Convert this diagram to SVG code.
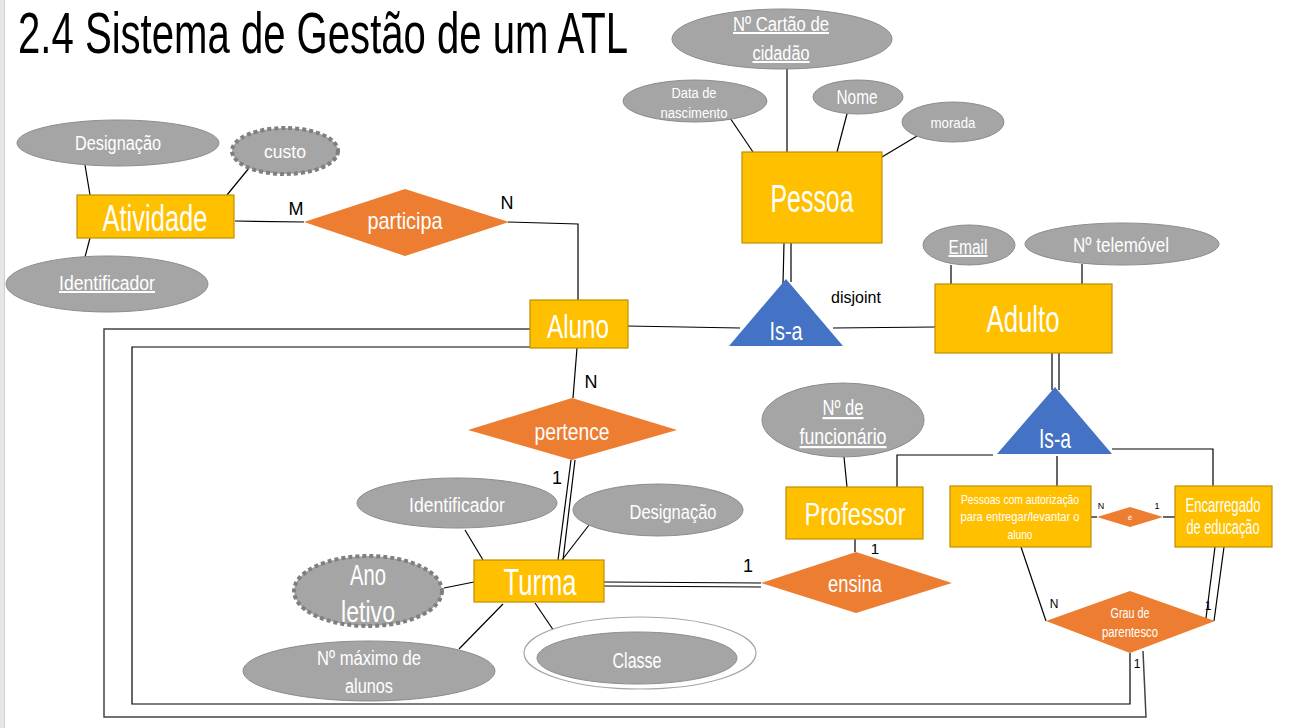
<svg xmlns="http://www.w3.org/2000/svg" width="1292" height="728" viewBox="0 0 1292 728">
<style>
.ent{fill:#FFC000;stroke:#BF9000;stroke-width:1.2}
.rel{fill:#ED7D31;stroke:none}
.att{fill:#A5A5A5;stroke:#8C8C8C;stroke-width:1}
.der{fill:#A5A5A5;stroke:#7F7F7F;stroke-width:4;stroke-dasharray:4 3}
.isa{fill:#4472C4;stroke:none}
.ln{fill:none;stroke:#000;stroke-width:1.2}
text{font-family:"Liberation Sans",Arial,sans-serif;text-anchor:middle;fill:#fff}
.lbl{fill:#000}
.u{text-decoration:underline}
</style>
<rect x="0" y="0" width="1292" height="728" fill="#fff"/>
<rect x="0" y="0" width="4" height="728" fill="#e6e6e6"/>
<line x1="4.5" y1="0" x2="4.5" y2="728" stroke="#cfcfcf" stroke-width="1"/>
<text x="323" y="53" font-size="58" style="fill:#000" textLength="610" lengthAdjust="spacingAndGlyphs">2.4 Sistema de Gestão de um ATL</text>

<g id="connectors">
<line class="ln" x1="728" y1="115" x2="753" y2="152"/>
<line class="ln" x1="787" y1="68" x2="787" y2="152"/>
<line class="ln" x1="848" y1="110" x2="837" y2="152"/>
<line class="ln" x1="917" y1="136" x2="882" y2="157"/>
<line class="ln" x1="85" y1="165" x2="90" y2="195"/>
<line class="ln" x1="249" y1="168" x2="227" y2="195"/>
<line class="ln" x1="90" y1="238" x2="85" y2="257"/>
<line class="ln" x1="235" y1="221" x2="304" y2="222"/>
<polyline class="ln" points="508,222 578,224 578,300"/>
<line class="ln" x1="627" y1="326" x2="740" y2="328"/>
<line class="ln" x1="784" y1="243" x2="783" y2="284"/>
<line class="ln" x1="791" y1="243" x2="791" y2="282"/>
<line class="ln" x1="833" y1="328" x2="935" y2="327"/>
<line class="ln" x1="951" y1="265" x2="951" y2="284"/>
<line class="ln" x1="1082" y1="264" x2="1082" y2="284"/>
<line class="ln" x1="1052" y1="353" x2="1052" y2="390"/>
<line class="ln" x1="1059" y1="353" x2="1059" y2="390"/>
<polyline class="ln" points="993,455 897,455 897,487"/>
<line class="ln" x1="1057" y1="456" x2="1057" y2="486"/>
<polyline class="ln" points="1112,449 1213,449 1213,486"/>
<line class="ln" x1="1091" y1="517" x2="1097" y2="517"/>
<line class="ln" x1="1163" y1="517" x2="1175" y2="517"/>
<line class="ln" x1="1021" y1="547" x2="1046" y2="621"/>
<line class="ln" x1="1215" y1="547" x2="1206" y2="618"/>
<line class="ln" x1="1224" y1="547" x2="1214" y2="621"/>
<polyline class="ln" points="1130,653 1130,704 132,704 132,347 530,347"/>
<polyline class="ln" points="1143,651 1146,717 104,717 104,329 530,329" style="stroke:#444;stroke-width:1.5"/>
<line class="ln" x1="577" y1="348" x2="573" y2="398"/>
<line class="ln" x1="571" y1="460" x2="558" y2="560"/>
<line class="ln" x1="575" y1="460" x2="563" y2="560"/>
<line class="ln" x1="465" y1="530" x2="483" y2="560"/>
<line class="ln" x1="589" y1="525" x2="562" y2="560"/>
<line class="ln" x1="444" y1="588" x2="474" y2="582"/>
<line class="ln" x1="459" y1="649" x2="503" y2="604"/>
<line class="ln" x1="535" y1="603" x2="556" y2="634"/>
<line class="ln" x1="604" y1="582" x2="761" y2="583"/>
<line class="ln" x1="604" y1="586" x2="761" y2="587"/>
<line class="ln" x1="855" y1="539" x2="855" y2="552"/>
<line class="ln" x1="844" y1="457" x2="847" y2="487"/>
</g>

<g id="labels">
<text class="lbl" x="296" y="215" font-size="18">M</text>
<text class="lbl" x="507" y="209" font-size="18">N</text>
<text class="lbl" x="856" y="303" font-size="16">disjoint</text>
<text class="lbl" x="591" y="388" font-size="18">N</text>
<text class="lbl" x="557" y="484" font-size="18">1</text>
<text class="lbl" x="748" y="572" font-size="18">1</text>
<text class="lbl" x="875" y="554" font-size="15">1</text>
<text class="lbl" x="1101" y="509" font-size="9">N</text>
<text class="lbl" x="1157" y="509" font-size="9">1</text>
<text class="lbl" x="1054" y="608" font-size="12">N</text>
<text class="lbl" x="1208" y="610" font-size="12">1</text>
<text class="lbl" x="1137" y="668" font-size="12">1</text>
</g>

<g id="pessoa">
<rect class="ent" x="742" y="152" width="140" height="91"/>
<text x="812" y="212" font-size="38" textLength="83" lengthAdjust="spacingAndGlyphs">Pessoa</text>
</g>
<g id="attr-cartao">
<ellipse class="att" cx="782" cy="39" rx="110" ry="30"/>
<text class="u" x="781" y="31" font-size="20" textLength="96" lengthAdjust="spacingAndGlyphs">Nº Cartão de</text>
<text class="u" x="781" y="60" font-size="20" textLength="57" lengthAdjust="spacingAndGlyphs">cidadão</text>
</g>
<g id="attr-data">
<ellipse class="att" cx="695" cy="101" rx="72" ry="21"/>
<text x="694" y="98" font-size="14" textLength="45" lengthAdjust="spacingAndGlyphs">Data de</text>
<text x="694" y="118" font-size="14" textLength="67" lengthAdjust="spacingAndGlyphs">nascimento</text>
</g>
<g id="attr-nome">
<ellipse class="att" cx="858" cy="97" rx="45" ry="17"/>
<text x="857" y="104" font-size="20" textLength="41" lengthAdjust="spacingAndGlyphs">Nome</text>
</g>
<g id="attr-morada">
<ellipse class="att" cx="953" cy="122" rx="51" ry="20"/>
<text x="953" y="128" font-size="15" textLength="45" lengthAdjust="spacingAndGlyphs">morada</text>
</g>

<g id="atividade">
<rect class="ent" x="77" y="195" width="157" height="43"/>
<text x="155" y="231" font-size="36" textLength="105" lengthAdjust="spacingAndGlyphs">Atividade</text>
</g>
<g id="attr-designacao-atv">
<ellipse class="att" cx="118" cy="143" rx="101" ry="23"/>
<text x="118" y="150" font-size="20" textLength="86" lengthAdjust="spacingAndGlyphs">Designação</text>
</g>
<g id="attr-custo">
<ellipse class="der" cx="285" cy="151" rx="53" ry="23"/>
<text x="285" y="158" font-size="18" textLength="42" lengthAdjust="spacingAndGlyphs">custo</text>
</g>
<g id="attr-identificador-atv">
<ellipse class="att" cx="107" cy="284" rx="101" ry="28"/>
<text class="u" x="107" y="290" font-size="20" textLength="96" lengthAdjust="spacingAndGlyphs">Identificador</text>
</g>
<g id="participa">
<polygon class="rel" points="304,222 405,189 509,222 405,256"/>
<text x="405" y="229" font-size="24" textLength="75" lengthAdjust="spacingAndGlyphs">participa</text>
</g>

<g id="aluno">
<rect class="ent" x="530" y="300" width="98" height="48"/>
<text x="578" y="338" font-size="34" textLength="62" lengthAdjust="spacingAndGlyphs">Aluno</text>
</g>
<g id="isa1">
<polygon class="isa" points="786,279 843,346 729,346"/>
<text x="786" y="340" font-size="26" textLength="33" lengthAdjust="spacingAndGlyphs">Is-a</text>
</g>

<g id="adulto">
<rect class="ent" x="935" y="284" width="177" height="69"/>
<text x="1023" y="332" font-size="36" textLength="73" lengthAdjust="spacingAndGlyphs">Adulto</text>
</g>
<g id="attr-email">
<ellipse class="att" cx="969" cy="245" rx="46" ry="20"/>
<text class="u" x="968" y="254" font-size="20" textLength="39" lengthAdjust="spacingAndGlyphs">Email</text>
</g>
<g id="attr-telemovel">
<ellipse class="att" cx="1122" cy="244" rx="97" ry="21"/>
<text x="1121" y="252" font-size="20" textLength="96" lengthAdjust="spacingAndGlyphs">Nº telemóvel</text>
</g>
<g id="isa2">
<polygon class="isa" points="1055,387 1112,454 997,454"/>
<text x="1055" y="448" font-size="28" textLength="32" lengthAdjust="spacingAndGlyphs">Is-a</text>
</g>

<g id="autorizados">
<rect class="ent" x="950" y="486" width="141" height="61"/>
<text x="1020" y="504" font-size="13" textLength="118" lengthAdjust="spacingAndGlyphs">Pessoas com autorização</text>
<text x="1020" y="521" font-size="13" textLength="119" lengthAdjust="spacingAndGlyphs">para entregar/levantar o</text>
<text x="1020" y="539" font-size="13" textLength="25" lengthAdjust="spacingAndGlyphs">aluno</text>
</g>
<g id="e-rel">
<polygon class="rel" points="1097,517 1130,507 1163,517 1130,527"/>
<text x="1130" y="520" font-size="8">é</text>
</g>
<g id="encarregado">
<rect class="ent" x="1175" y="486" width="97" height="61"/>
<text x="1223" y="512" font-size="20" textLength="75" lengthAdjust="spacingAndGlyphs">Encarregado</text>
<text x="1223" y="534" font-size="20" textLength="73" lengthAdjust="spacingAndGlyphs">de educação</text>
</g>
<g id="grau">
<polygon class="rel" points="1046,621 1130,591 1215,621 1130,653"/>
<text x="1130" y="618" font-size="14" textLength="39" lengthAdjust="spacingAndGlyphs">Grau de</text>
<text x="1130" y="637" font-size="14" textLength="56" lengthAdjust="spacingAndGlyphs">parentesco</text>
</g>

<g id="professor">
<rect class="ent" x="786" y="487" width="137" height="52"/>
<text x="855" y="525" font-size="32" textLength="101" lengthAdjust="spacingAndGlyphs">Professor</text>
</g>
<g id="attr-funcionario">
<ellipse class="att" cx="843" cy="420" rx="81" ry="37"/>
<text class="u" x="843" y="415" font-size="22" textLength="41" lengthAdjust="spacingAndGlyphs">Nº de</text>
<text class="u" x="843" y="444" font-size="22" textLength="87" lengthAdjust="spacingAndGlyphs">funcionário</text>
</g>
<g id="ensina">
<polygon class="rel" points="761,583 856,552 952,583 856,613"/>
<text x="855" y="592" font-size="24" textLength="54" lengthAdjust="spacingAndGlyphs">ensina</text>
</g>

<g id="pertence">
<polygon class="rel" points="468,430 572,398 677,430 572,460"/>
<text x="572" y="440" font-size="24" textLength="75" lengthAdjust="spacingAndGlyphs">pertence</text>
</g>
<g id="turma">
<rect class="ent" x="474" y="560" width="130" height="42"/>
<text x="540" y="595" font-size="36" textLength="73" lengthAdjust="spacingAndGlyphs">Turma</text>
</g>
<g id="attr-identificador-turma">
<ellipse class="att" cx="457" cy="503" rx="100" ry="25"/>
<text x="457" y="512" font-size="20" textLength="96" lengthAdjust="spacingAndGlyphs">Identificador</text>
</g>
<g id="attr-designacao-turma">
<ellipse class="att" cx="658" cy="510" rx="85" ry="26"/>
<text x="673" y="519" font-size="20" textLength="87" lengthAdjust="spacingAndGlyphs">Designação</text>
</g>
<g id="attr-ano">
<ellipse class="der" cx="368" cy="591" rx="74" ry="35"/>
<text x="368" y="585" font-size="30" textLength="36" lengthAdjust="spacingAndGlyphs">Ano</text>
<text x="368" y="622" font-size="30" textLength="54" lengthAdjust="spacingAndGlyphs">letivo</text>
</g>
<g id="attr-maximo">
<ellipse class="att" cx="369" cy="671" rx="126" ry="30"/>
<text x="369" y="665" font-size="20" textLength="104" lengthAdjust="spacingAndGlyphs">Nº máximo de</text>
<text x="369" y="693" font-size="20" textLength="48" lengthAdjust="spacingAndGlyphs">alunos</text>
</g>
<g id="attr-classe">
<ellipse cx="640" cy="653" rx="116" ry="36" fill="#fff" stroke="#A5A5A5" stroke-width="1.2"/>
<ellipse class="att" cx="637" cy="658" rx="100" ry="26"/>
<text x="637" y="668" font-size="22" textLength="49" lengthAdjust="spacingAndGlyphs">Classe</text>
</g>
</svg>
